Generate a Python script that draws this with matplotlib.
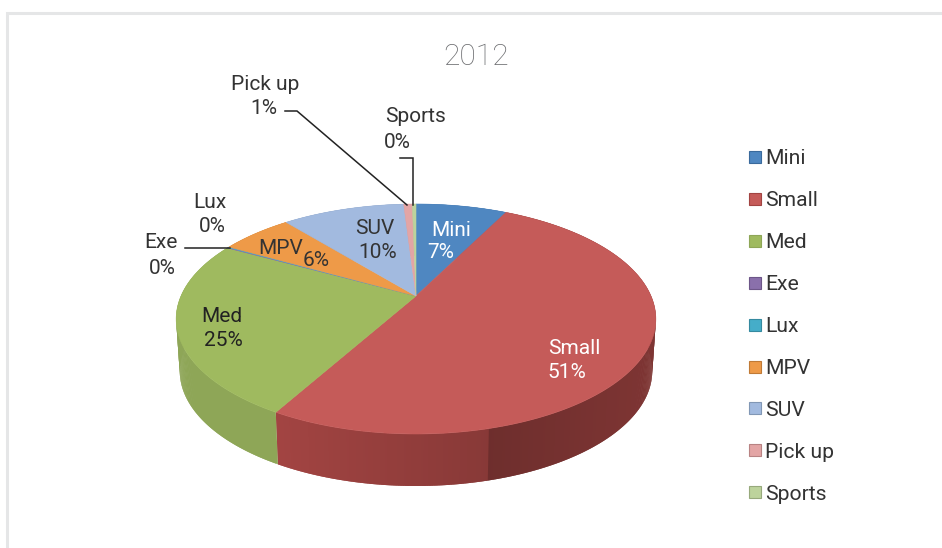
import numpy as np
import matplotlib
matplotlib.use("Agg")
import matplotlib.pyplot as plt
from matplotlib.patches import Polygon, Rectangle
from matplotlib.collections import PolyCollection
from matplotlib.colors import to_rgb

# ---- data ----
categories = ["Mini", "Small", "Med", "Exe", "Lux", "MPV", "SUV", "Pick up", "Sports"]
shares = [7.45, 50.75, 24.7, 0.1, 0.1, 5.9, 10.0, 0.7, 0.3]
title = "2012"

# ---- styling ----
top_colors = ["#4f87c1", "#c55b59", "#9fba5f", "#8a70ab", "#45adc9", "#ee9a48", "#a2badf", "#e3a5a5", "#bdd39c"]
wall_colors = ["#3a6a9c", "#a24442", "#8ea657", "#6d5688", "#358aa0", "#c07a36", "#8197b5", "#b88383", "#97a97c"]
# (name x, name y, share x, share y, colour)
label_pos = {"Mini": (451, 230, 441, 253, "white"), "Small": (574, 348, 567, 372, "white"),
             "Med": (222, 316, 223, 341, "#222222"), "Exe": (161, 243, 162, 269, "#333333"),
             "Lux": (210, 203, 212, 227, "#333333"), "MPV": (281, 248, 316, 260, "#333333"),
             "SUV": (375, 228, 378, 252, "#333333"), "Pick up": (265, 85, 264, 109, "#333333"),
             "Sports": (416, 117, 397, 143, "#333333")}
plt.rcParams["font.family"] = ["Roboto", "DejaVu Sans"]
TXT = 15.0

CX, CY = 416, 296      # apex of the pie
RX, K, AY = 235.0, 0.2, 110.4   # perspective projection of the disc
DEPTH = 52
BOTTOM_SCALE = 0.985

def project(theta):
    u, v = np.sin(theta), np.cos(theta)
    w = 1 + K * v
    return CX + RX * u / w, CY - AY * v / w

fig = plt.figure(figsize=(9.42, 5.48), dpi=100)
ax = fig.add_axes([0, 0, 1, 1])
ax.set_xlim(0, 942); ax.set_ylim(548, 0); ax.axis("off")

# page frame
ax.plot([7, 7, 942], [548, 13, 13], color="#e5e6e7", lw=2.2, solid_joinstyle="miter")

edges = 2 * np.pi * np.concatenate([[0], np.cumsum(shares)]) / np.sum(shares)

# walls: overlapping strips painted in order, so no seams show
for i, (a, b) in enumerate(zip(edges[:-1], edges[1:])):
    n = max(int((b - a) * 120), 2)
    t = np.linspace(a, b, n + 1)
    x, y = project(t)
    xb = CX + (x - CX) * BOTTOM_SCALE
    quads, cols = [], []
    for j in range(n):
        k = min(j + 2, n)
        quads.append([(x[j], y[j]), (x[k], y[k]), (xb[k], y[k] + DEPTH), (xb[j], y[j] + DEPTH)])
        xm = (x[j] + x[j + 1]) / 2
        c = np.array(to_rgb(wall_colors[i]))
        if categories[i] == "Small":
            s = 0.68 + 0.10 * (xm - 488) / 170 if xm > 488 else 1.0 - 0.16 * (xm - 280) / 208
        else:
            s = 1.0
        cols.append(np.clip(c * s, 0, 1))
    ax.add_collection(PolyCollection(quads, facecolors=cols, edgecolors="none", zorder=2))

# tops
for i, (a, b) in enumerate(zip(edges[:-1], edges[1:])):
    t = np.linspace(a, b, max(int((b - a) * 120), 3))
    x, y = project(t)
    pts = np.column_stack([np.r_[CX, x], np.r_[CY, y]])
    ax.add_patch(Polygon(pts, closed=True, facecolor=top_colors[i], edgecolor=top_colors[i], lw=0.4, zorder=3))

# title
ax.text(476, 57, title, ha="center", va="center", fontsize=21.5, color="#6a6b6e", fontweight="light")

# data labels
for name, share in zip(categories, shares):
    nx, ny, sx, sy, col = label_pos[name]
    ax.text(nx, ny, name, ha="center", va="center", fontsize=TXT, color=col, zorder=5)
    ax.text(sx, sy, f"{round(share)}%", ha="center", va="center", fontsize=TXT, color=col, zorder=5)

# leader lines
for xs, ys in [([285, 297, 407], [111, 111, 205]), ([400, 413, 413], [158, 158, 205]), ([185, 230], [248, 248])]:
    ax.plot(xs, ys, color="#222222", lw=1.1, zorder=6, solid_joinstyle="miter")

# legend
for i, name in enumerate(categories):
    y = 157 + i * 41.9
    ax.add_patch(Rectangle((749, y - 6), 12, 12, facecolor=top_colors[i], edgecolor=wall_colors[i], lw=0.8, zorder=4))
    ax.text(765, y + 2, name, ha="left", va="center", fontsize=15.2, color="#333333")

fig.savefig("out.png", dpi=100)
